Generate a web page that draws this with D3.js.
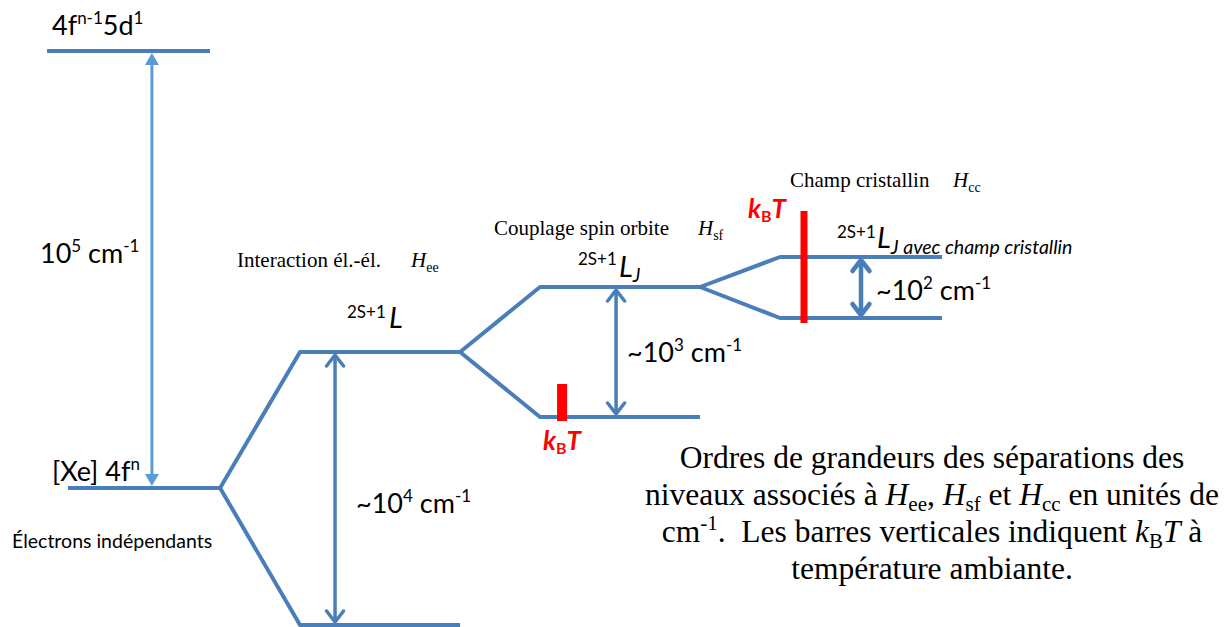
<!DOCTYPE html>
<html><head><meta charset="utf-8">
<script src="https://cdn.jsdelivr.net/npm/d3@7"></script>
<style>
html,body{margin:0;padding:0;background:#fff;}
svg text{white-space:pre;}
</style></head>
<body>
<svg id="c" width="1226" height="627"></svg>
<script>
// ---------- DATA ----------
// stages (step of the hamiltonian hierarchy)
const stageNames = ["Électrons indépendants", "Interaction él.-él.", "Couplage spin orbite", "Champ cristallin"];
const stageSymbols = ["", "ee", "sf", "cc"];
// energy levels (arbitrary, not-to-scale energy units)
const levelIds     = ["5d", "4f", "L_hi", "L_lo", "LJ_hi", "LJ_lo", "CC_hi", "CC_lo"];
const levelStage   = [0, 0, 1, 1, 2, 2, 3, 3];
const levelEnergy  = [574, 137, 273, 0, 338, 208, 368, 307];
// splittings: parent level -> child levels
const splitFrom    = [1, 1, 2, 2, 4, 4];
const splitTo      = [2, 3, 4, 5, 6, 7];
// separations (double arrows) between level pairs, with order of magnitude exponent
const gapUpper     = [0, 2, 4, 6];
const gapLower     = [1, 3, 5, 7];
const gapExponent  = ["5", "4", "3", "2"];
// k_B T bars (energy extents)
const kTStage      = [2, 3];
const kTLow        = [204, 302];
const kTHigh       = [241, 414];

// ---------- LAYOUT ----------
const svg = d3.select("#c");
const x = d3.scaleLinear().domain([0, 3]).range([60, 780]);
const y = d3.scaleLinear().domain([0, 574]).range([625, 51]);
const levelX0 = [-0.054, 0.033, 0, 0, 0, 0, 0, 0];
const levelX1 = [0.625, 0.667, 0.667, 0.667, 0.667, 0.667, 0.675, 0.675];
const gapX    = [0.383, 0.146, 0.317, 0.3375];
const kTX     = [0.092, 0.1];
const kTW     = [10, 7];
const blue = "#4A7EBB", blueLight = "#5B9BD5", red = "#FF0000";

const lx0 = i => x(levelStage[i] + levelX0[i]);
const lx1 = i => x(levelStage[i] + levelX1[i]);

// levels
svg.selectAll("line.level").data(levelIds).join("line")
  .attr("class","level")
  .attr("x1",(d,i)=>lx0(i)).attr("x2",(d,i)=>lx1(i))
  .attr("y1",(d,i)=>y(levelEnergy[i])).attr("y2",(d,i)=>y(levelEnergy[i]))
  .attr("stroke",blue).attr("stroke-width",4);

// splitting connectors
svg.selectAll("line.split").data(splitFrom).join("line")
  .attr("class","split")
  .attr("x1",(d)=>lx1(d)).attr("y1",d=>y(levelEnergy[d]))
  .attr("x2",(d,k)=>lx0(splitTo[k])).attr("y2",(d,k)=>y(levelEnergy[splitTo[k]]))
  .attr("stroke",blue).attr("stroke-width",4).attr("stroke-linecap","round");

// arrows
gapUpper.forEach((u,k)=>{
  const l = gapLower[k];
  const ax = x(levelStage[u] + gapX[k]);
  const yt = y(levelEnergy[u]) + 2, yb = y(levelEnergy[l]) - 2;
  if (k === 0) {
    const hl = 12, hw = 7;
    svg.append("line").attr("x1",ax).attr("x2",ax).attr("y1",yt+hl).attr("y2",yb-hl)
      .attr("stroke",blueLight).attr("stroke-width",3);
    svg.append("path").attr("d",`M${ax},${yt}L${ax-hw},${yt+hl}L${ax+hw},${yt+hl}Z`).attr("fill",blueLight);
    svg.append("path").attr("d",`M${ax},${yb}L${ax-hw},${yb-hl}L${ax+hw},${yb-hl}Z`).attr("fill",blueLight);
  } else {
    const sw = k === 3 ? 4.5 : 3.5, hl = 12, hw = 8.5;
    svg.append("line").attr("x1",ax).attr("x2",ax).attr("y1",yt+1).attr("y2",yb-1)
      .attr("stroke",blue).attr("stroke-width",sw);
    [[yt,1],[yb,-1]].forEach(([ty,s])=>{
      svg.append("path").attr("d",`M${ax-hw},${ty+s*hl}L${ax},${ty+s*1}L${ax+hw},${ty+s*hl}`)
        .attr("fill","none").attr("stroke",blue).attr("stroke-width",sw)
        .attr("stroke-linecap","round").attr("stroke-linejoin","round");
    });
  }
});

// kT bars
kTStage.forEach((s,k)=>{
  const cx = x(s + kTX[k]);
  svg.append("rect").attr("x",cx-kTW[k]/2).attr("width",kTW[k])
    .attr("y",y(kTHigh[k])).attr("height",y(kTLow[k])-y(kTHigh[k])).attr("fill",red);
});

// ---------- TEXT ----------
const SANS = "Lato, 'Open Sans', sans-serif", SERIF = "'Liberation Serif', 'Times New Roman', serif";
function rich(px, py, parts, opt){
  opt = opt || {};
  const t = svg.append("text").attr("x",px).attr("y",py)
    .attr("font-family",opt.family||SANS).attr("font-size",opt.size||27)
    .attr("fill",opt.fill||"#000");
  if (opt.anchor) t.attr("text-anchor",opt.anchor);
  if (opt.weight) t.attr("font-weight",opt.weight);
  let cur = 0;
  parts.forEach(p=>{
    if (typeof p === "string") p = {t:p};
    const target = p.dy || 0;
    const ts = t.append("tspan").text(p.t).attr("dy", target - cur);
    cur = target;
    if (p.size) ts.attr("font-size",p.size);
    if (p.italic) ts.attr("font-style","italic");
    if (p.family) ts.attr("font-family",p.family);
    if (p.weight) ts.attr("font-weight",p.weight);
  });
  return t;
}
const SUP = {dy:-11, size:17};
const sup = s => Object.assign({t:s}, SUP);

rich(52,35,["4f",sup("n-1"),"5d",sup("1")]);
rich(40,263,["10",sup("5")," cm",sup("-1")]);
rich(52,481,["[Xe] 4f",sup("n")]);
rich(12,548,[stageNames[0]],{size:19.5});

function cm(px,py,e){ return rich(px,py,["~10",sup(e)," cm",sup("-1")]); }
const cmPos = [null,[356,513],[627,362],[876,300]];
gapExponent.forEach((e,k)=>{ if (k>0) cm(cmPos[k][0],cmPos[k][1],e); });

// stage titles (serif)
const titlePos = [null,[237,267,411],[494,235,698],[790,187,953]];
[1,2,3].forEach(s=>{
  const p = titlePos[s];
  rich(p[0],p[1],[stageNames[s]],{family:SERIF,size:21});
  rich(p[2],p[1],[{t:"H",italic:true},{t:stageSymbols[s],dy:5,size:14}],{family:SERIF,size:21});
});

// term symbols
rich(347,318,[{t:"2S+1",size:17}]);
rich(389,328,[{t:"L",italic:true}],{size:29});
rich(578,265,[{t:"2S+1",size:17}]);
rich(619,277,[{t:"L",italic:true},{t:"J",italic:true,size:19,dy:5}],{size:29});
rich(837,238,[{t:"2S+1",size:17}]);
rich(877,248,[{t:"L",italic:true},{t:"J avec champ cristallin",italic:true,size:19.5,dy:6}],{size:29});

// kBT labels
function kbt(px,py){
  rich(px,py,[{t:"k",italic:true},{t:"B",size:16,dy:4},{t:"T",italic:true}],{size:26,fill:red,weight:"bold"});
}
kbt(748,218); kbt(543,450);

// caption
const capX = 932, capS = 31.5, capSub = 21;
rich(capX,468,["Ordres de grandeurs des séparations des"],{family:SERIF,size:capS,anchor:"middle"});
rich(capX,505,["niveaux associés à ",{t:"H",italic:true},{t:"ee",size:capSub,dy:6},{t:", "},{t:"H",italic:true},{t:"sf",size:capSub,dy:6},{t:" et "},{t:"H",italic:true},{t:"cc",size:capSub,dy:6},{t:" en unités de"}],{family:SERIF,size:capS,anchor:"middle"});
rich(capX,542,["cm",{t:"-1",size:capSub,dy:-12},{t:".  Les barres verticales indiquent "},{t:"k",italic:true},{t:"B",size:capSub,dy:6},{t:"T",italic:true},{t:" à"}],{family:SERIF,size:capS,anchor:"middle"});
rich(capX,579,["température ambiante."],{family:SERIF,size:capS,anchor:"middle"});
</script>
</body></html>
